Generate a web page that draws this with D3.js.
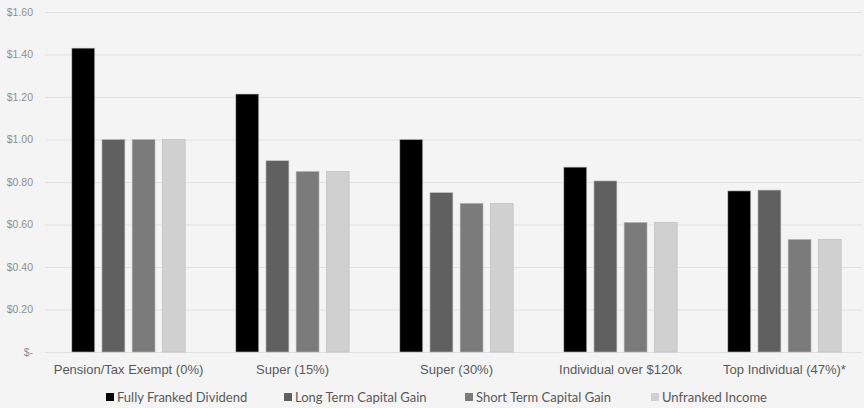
<!DOCTYPE html>
<html>
<head>
<meta charset="utf-8">
<script src="https://cdn.jsdelivr.net/npm/d3@7"></script>
<style>
  html, body { margin: 0; padding: 0; background: #f4f4f4; }
  svg { display: block; font-family: Lato, "Open Sans", sans-serif; }
</style>
</head>
<body>
<svg id="chart" width="864" height="408"></svg>
<script>
// After-tax value of $1 of each income type, by investor tax status
const categories = ["Pension/Tax Exempt (0%)", "Super (15%)", "Super (30%)", "Individual over $120k", "Top Individual (47%)*"];
const seriesNames = ["Fully Franked Dividend", "Long Term Capital Gain", "Short Term Capital Gain", "Unfranked Income"];
const fullyFranked = [1.43, 1.214, 1.00, 0.87, 0.758];
const longTermCG   = [1.00, 0.90, 0.75, 0.805, 0.762];
const shortTermCG  = [1.00, 0.85, 0.70, 0.61, 0.53];
const unfranked    = [1.00, 0.85, 0.70, 0.61, 0.53];
const yTicks = [0, 0.2, 0.4, 0.6, 0.8, 1.0, 1.2, 1.4, 1.6];
const colors = ["#000000", "#606060", "#7b7b7b", "#d0d0d0"];

const seriesValues = [fullyFranked, longTermCG, shortTermCG, unfranked];
const rows = categories.map((c, i) => ({ cat: c, vals: seriesValues.map(s => s[i]) }));

const svg = d3.select("#chart");
const gridLeft = 45, gridRight = 862, plotTop = 12, plotBottom = 352;

const x0 = d3.scaleBand().domain(categories).range([46.5, 866.5]).padding(0);
const x1 = d3.scaleBand().domain(d3.range(seriesNames.length))
  .range([0, x0.bandwidth()]).paddingInner(0.24).paddingOuter(0.84);
const y = d3.scaleLinear().domain([0, 1.6]).range([plotBottom, plotTop]);

const fmt = v => v === 0 ? "$-" : "$" + v.toFixed(2);

// gridlines
svg.append("g")
  .selectAll("line").data(yTicks).join("line")
  .attr("x1", gridLeft).attr("x2", gridRight)
  .attr("y1", d => y(d) + 0.5).attr("y2", d => y(d) + 0.5)
  .attr("stroke", "#e0e0e0").attr("stroke-width", 1);

// y axis labels
const yAxis = d3.axisLeft(y).tickValues(yTicks).tickFormat(fmt).tickSize(0).tickPadding(12);
svg.append("g").attr("transform", `translate(${gridLeft},0)`).call(yAxis)
  .call(g => g.select(".domain").remove())
  .call(g => g.selectAll("text").attr("fill", "#8f8f8f").style("font-size", "10.5px"));

// bars
const groups = svg.append("g").selectAll("g").data(rows).join("g")
  .attr("transform", d => `translate(${x0(d.cat)},0)`);
groups.selectAll("rect").data(d => d.vals.map((v, i) => ({ v, i }))).join("rect")
  .attr("x", d => x1(d.i))
  .attr("y", d => y(d.v))
  .attr("width", x1.bandwidth())
  .attr("height", d => plotBottom - y(d.v))
  .attr("fill", d => colors[d.i])
  .attr("stroke", "#bdbdbd").attr("stroke-width", 0.6);

// x axis labels
const xAxis = d3.axisBottom(x0).tickSize(0).tickPadding(13);
svg.append("g").attr("transform", `translate(0,${plotBottom})`).call(xAxis)
  .call(g => g.select(".domain").remove())
  .call(g => g.selectAll("text").attr("fill", "#595959").style("font-size", "13px"));

// legend
const legendX = [106, 284, 465, 651];
const legend = svg.append("g").selectAll("g").data(seriesNames).join("g")
  .attr("transform", (d, i) => `translate(${legendX[i]},402)`);
legend.append("rect").attr("x", 0).attr("y", -9).attr("width", 8).attr("height", 8)
  .attr("fill", (d, i) => colors[i]);
legend.append("text").attr("x", 11).attr("y", 0)
  .attr("fill", "#595959").style("font-size", "13px").text(d => d);
</script>
</body>
</html>
